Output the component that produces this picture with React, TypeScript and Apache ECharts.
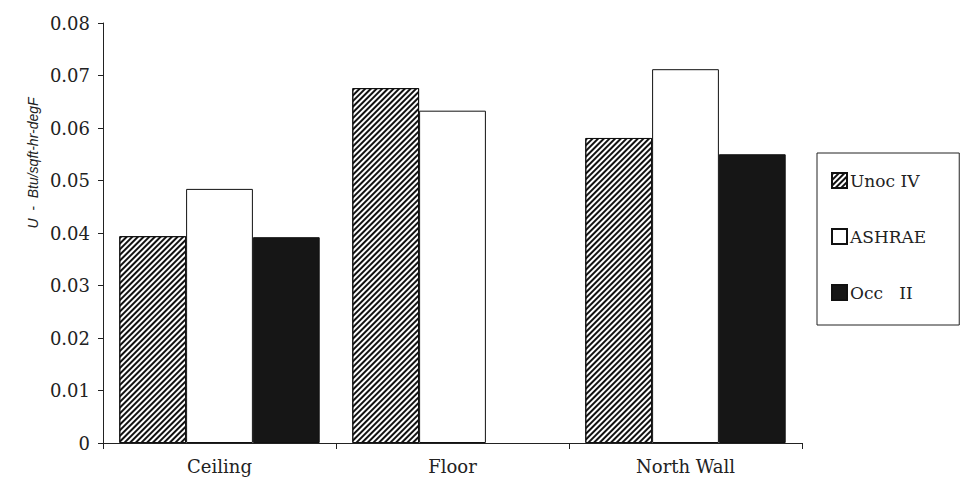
import React, { useEffect, useRef } from "react";
import * as echarts from "echarts";

const categories = ["Ceiling", "Floor", "North Wall"];
const unocIV = [0.0394, 0.0676, 0.0581];
const ashrae = [0.0484, 0.0633, 0.0712];
const occII: (number | null)[] = [0.0392, null, 0.055];
const yTicks = [0, 0.01, 0.02, 0.03, 0.04, 0.05, 0.06, 0.07, 0.08];

export default function App() {
  const ref = useRef<HTMLDivElement>(null);
  useEffect(() => {
    if (!ref.current) return;
    const chart = echarts.init(ref.current, undefined, { renderer: "svg" });
    const serif = "DejaVu Serif";
    chart.setOption({
      animation: false,
      backgroundColor: "#ffffff",
      grid: { left: 103, right: 160, top: 23, bottom: 48, containLabel: false },
      legend: {
        orient: "vertical",
        left: 817,
        top: 153,
        padding: [19, 33, 24, 14],
        itemGap: 39,
        itemWidth: 15,
        itemHeight: 15,
        icon: "rect",
        borderColor: "#222",
        borderWidth: 1,
        textStyle: { fontFamily: serif, fontSize: 17, color: "#222", padding: [0, 0, 0, -2] },
        data: ["Unoc IV", "ASHRAE", "Occ   II"],
      },
      xAxis: {
        type: "category",
        data: categories,
        boundaryGap: true,
        axisLine: { lineStyle: { color: "#222", width: 1 } },
        axisTick: { show: true, length: 6, lineStyle: { color: "#222" } },
        axisLabel: { fontFamily: serif, fontSize: 18, color: "#222", margin: 14 },
      },
      yAxis: {
        type: "value",
        min: 0,
        max: 0.08,
        interval: 0.01,
        splitLine: { show: false },
        axisLine: { show: true, lineStyle: { color: "#222", width: 1 } },
        axisTick: { show: true, length: 5, lineStyle: { color: "#222" } },
        axisLabel: {
          fontFamily: serif,
          fontSize: 18,
          color: "#222",
          margin: 13,
          formatter: (v: number) => {
            const t = yTicks.find((x) => Math.abs(x - v) < 1e-9);
            return t === 0 ? "0" : (t ?? v).toFixed(2);
          },
        },
      },
      graphic: [
        {
          type: "text",
          x: 33,
          y: 163,
          rotation: Math.PI / 2,
          style: {
            text: "U  -  Btu/sqft-hr-degF",
            fontFamily: "Liberation Sans",
            fontStyle: "italic",
            fontSize: 14,
            fill: "#222",
            align: "center",
            verticalAlign: "middle",
          },
        },
      ],
      series: [
        {
          name: "Unoc IV",
          type: "bar",
          data: unocIV,
          barGap: "0%",
          barCategoryGap: "14%",
          itemStyle: {
            color: "#ffffff",
            borderColor: "#111",
            borderWidth: 1,
            decal: {
              symbol: "rect",
              color: "#111",
              dashArrayX: [1, 0],
              dashArrayY: [2, 2],
              rotation: -Math.PI / 4,
              symbolSize: 1,
            },
          },
        },
        {
          name: "ASHRAE",
          type: "bar",
          data: ashrae,
          itemStyle: { color: "#ffffff", borderColor: "#111", borderWidth: 1 },
        },
        {
          name: "Occ   II",
          type: "bar",
          data: occII,
          itemStyle: { color: "#161616", borderColor: "#111", borderWidth: 1 },
        },
      ],
    });
    return () => chart.dispose();
  }, []);
  return <div ref={ref} style={{ width: 962, height: 491, position: "absolute", left: 0, top: 0 }} />;
}
